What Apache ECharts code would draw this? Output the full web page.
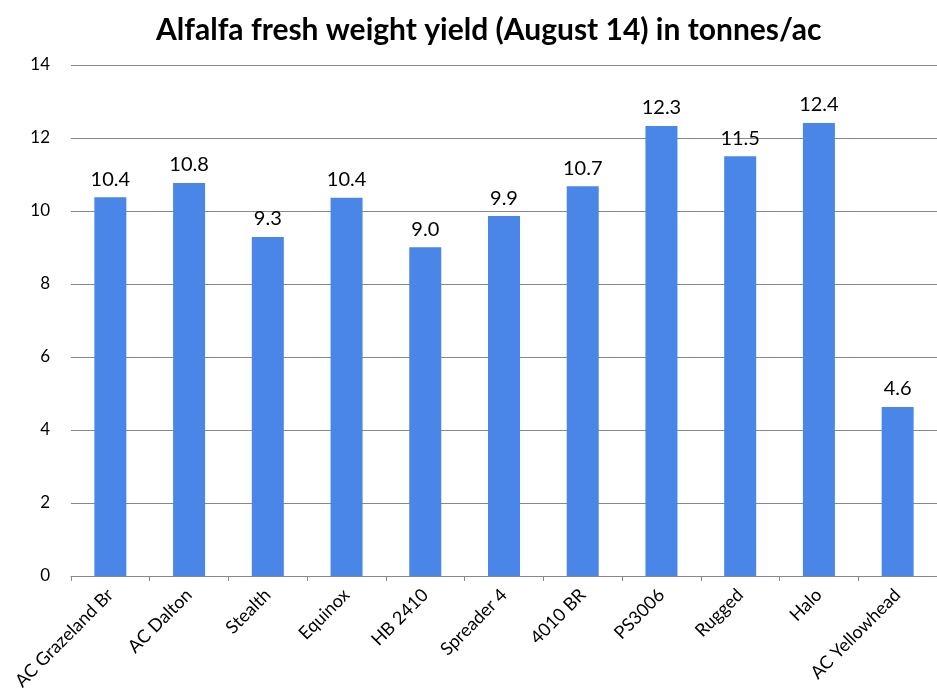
<!DOCTYPE html>
<html lang="en">
<head>
    <meta charset="UTF-8">
    <title>Alfalfa fresh weight yield</title>
    <script src="https://cdn.jsdelivr.net/npm/echarts@6/dist/echarts.min.js"></script>
    <style>
        body { margin: 0; background: #fff; }
    </style>
</head>
<body>
<div id="main" style="width: 937px; height: 700px;"></div>
<script>
    // data
    var varieties = ['AC Grazeland Br', 'AC Dalton', 'Stealth', 'Equinox', 'HB 2410',
        'Spreader 4', '4010 BR', 'PS3006', 'Rugged', 'Halo', 'AC Yellowhead'];
    var yieldTonnes = [10.38, 10.77, 9.29, 10.36, 9.01, 9.86, 10.68, 12.33, 11.5, 12.41, 4.63];
    var yTicks = [0, 14, 2]; // min, max, step

    var mychart = echarts.init(document.getElementById('main'));
    var font = 'Lato, "Open Sans", sans-serif';

    mychart.setOption({
        animation: false,
        title: {
            text: 'Alfalfa fresh weight yield (August 14) in tonnes/ac',
            left: 151,
            top: 10,
            textStyle: { fontFamily: font, fontSize: 30, fontWeight: 'bold', color: '#000' }
        },
        grid: { left: 71, right: -6, top: 65, bottom: 124 },
        xAxis: {
            type: 'category',
            data: varieties,
            axisLine: { lineStyle: { color: '#888' } },
            axisTick: { show: true, alignWithLabel: false, length: 5, lineStyle: { color: '#888' } },
            axisLabel: {
                rotate: 45, interval: 0, margin: 16,
                fontFamily: font, fontSize: 18, color: '#000'
            }
        },
        yAxis: {
            type: 'value',
            min: yTicks[0], max: yTicks[1], interval: yTicks[2],
            axisLine: { show: false },
            axisTick: { show: false },
            axisLabel: { fontFamily: font, fontSize: 17, color: '#000', margin: 21 },
            splitLine: { lineStyle: { color: '#888', width: 1 } }
        },
        series: [{
            type: 'bar',
            data: yieldTonnes,
            barWidth: 32,
            itemStyle: { color: '#4a86e8' },
            label: {
                show: true, position: 'top', distance: 8,
                fontFamily: font, fontSize: 20, color: '#000',
                formatter: function (p) { return p.value.toFixed(1); }
            }
        }]
    });
</script>
</body>
</html>
